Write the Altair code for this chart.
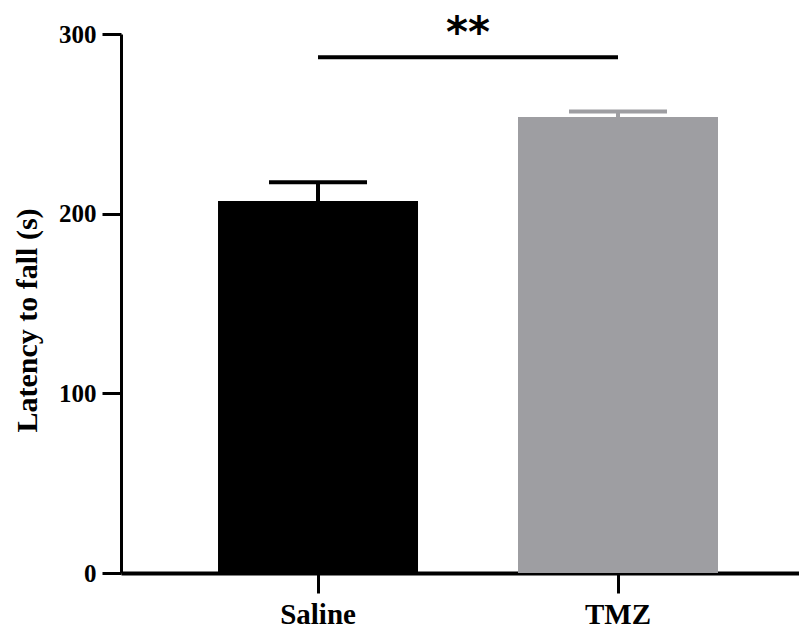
import altair as alt
import pandas as pd

groups = ["Saline", "TMZ"]
means = [207.0, 253.8]
errors = [10.5, 3.0]
colors = ["#000000", "#9e9ea2"]
sig_pair = ["Saline", "TMZ"]
sig_y = 287
sig_label = "**"
sig_text_y = 311
y_ticks = [0, 100, 200, 300]

df = pd.DataFrame({
    "group": groups,
    "mean": means,
    "upper": [m + e for m, e in zip(means, errors)],
    "color": colors,
})
sig = pd.DataFrame({"g1": [sig_pair[0]], "g2": [sig_pair[1]], "y": [sig_y],
                    "ty": [sig_text_y], "label": [sig_label]})

YT = "Latency to fall (s)"
serif = "Liberation Serif"

xscale = alt.Scale(domain=groups, paddingInner=1/3, paddingOuter=0.2967, align=0.545)
yscale = alt.Scale(domain=[0, 300], nice=False)

xaxis = alt.Axis(title=None, labelAngle=0, labelFont=serif, labelFontWeight="bold",
                 labelFontSize=29, labelColor="black", labelPadding=7,
                 tickSize=20, tickWidth=3, tickColor="black",
                 domainColor="black", domainWidth=4)
yaxis = alt.Axis(title=YT, values=y_ticks, labelFont=serif, labelFontWeight="bold",
                 labelFontSize=25, labelColor="black", labelPadding=6,
                 tickSize=19, tickWidth=3, tickColor="black",
                 domainColor="black", domainWidth=3,
                 titleFont=serif, titleFontWeight="bold", titleFontSize=30,
                 titleColor="black", titlePadding=16, titleY=286, grid=False)

base = alt.Chart(df)
X = alt.X("group:N", scale=xscale, sort=groups, axis=xaxis)

bars = base.mark_bar(opacity=1).encode(
    x=X,
    y=alt.Y("mean:Q", scale=yscale, axis=yaxis, title=YT),
    color=alt.Color("color:N", scale=None),
)
stems = base.mark_rule(strokeWidth=4, opacity=1).encode(
    x=X,
    y=alt.Y("mean:Q", scale=yscale, title=YT),
    y2="upper:Q",
    color=alt.Color("color:N", scale=None),
)
caps = base.mark_tick(orient="horizontal", size=98, thickness=4, opacity=1).encode(
    x=X,
    y=alt.Y("upper:Q", scale=yscale, title=YT),
    color=alt.Color("color:N", scale=None),
)
sigline = alt.Chart(sig).mark_rule(strokeWidth=4, color="black").encode(
    x=alt.X("g1:N", scale=xscale, axis=xaxis),
    x2="g2:N",
    y=alt.Y("y:Q", scale=yscale, title=YT),
)
sigtext = alt.Chart(sig).mark_text(dx=150, font="DejaVu Sans", fontWeight="bold",
                                   fontSize=42, baseline="top", color="black").encode(
    x=alt.X("g1:N", scale=xscale, axis=xaxis),
    y=alt.Y("ty:Q", scale=yscale, title=YT),
    text="label:N",
)

chart = alt.layer(bars, stems, caps, sigline, sigtext).properties(
    width=678, height=539,
    autosize=alt.AutoSizeParams(type="none"),
    padding={"left": 113, "top": 26, "right": 0, "bottom": 57},
).configure(background="white").configure_view(stroke=None, strokeWidth=0)

chart.save("out.html", embed_options={"renderer": "svg", "actions": False})
